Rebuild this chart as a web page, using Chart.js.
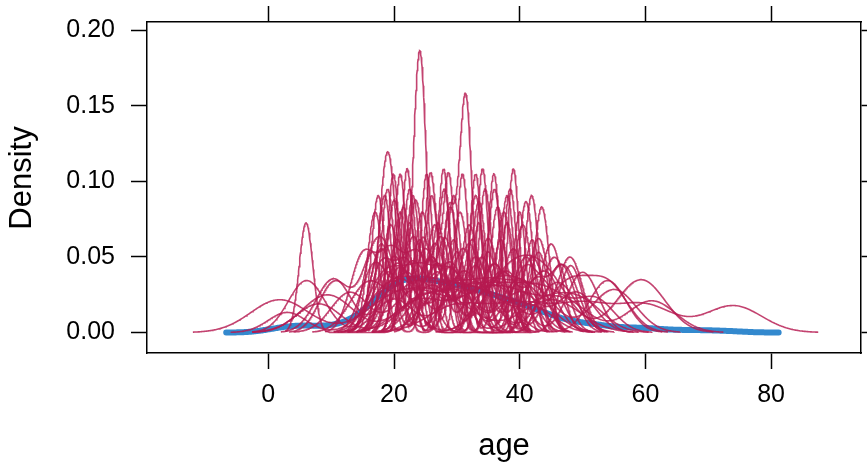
<!DOCTYPE html>
<html>
<head>
<meta charset="utf-8">
<script src="https://cdn.jsdelivr.net/npm/chart.js@4.4.1/dist/chart.umd.min.js"></script>
<style>
  html, body { margin: 0; padding: 0; background: #ffffff; }
  #wrap { width: 867px; height: 462px; }
</style>
</head>
<body>
<div id="wrap"><canvas id="densityChart" width="867" height="462"></canvas></div>
<script>
// Observed ages (binned) and their counts
const observedAges = [0.5, 3, 5, 7, 9, 11, 13, 15, 17, 19, 21, 23, 25, 27, 29, 31, 33, 35, 37, 39,
    41, 43, 45, 47, 49, 51, 53, 55, 57, 59, 61, 63, 65, 67, 69, 71, 74];
const observedCounts = [2, 3, 3, 3, 2, 3, 4, 8, 13, 19, 22, 23, 22, 20, 20, 19, 17, 16, 14, 13,
    11, 9, 7, 5, 4, 4, 3, 2, 2, 2, 2, 1, 1, 1, 1, 1, 1];
const observedBandwidth = 2.4;

// Imputed ages, one list per imputation, with the kernel bandwidth used for each
const imputedAges = [
    [19.0, 23.9, 24.3, 36.0],
    [21.0, 28.7, 31.2, 31.6, 40.0],
    [22.1, 27.9, 34.1, 39.0],
    [19.9, 25.2, 30.9, 35.9],
    [18.7, 19.3, 24.1, 29.5, 42.0],
    [21.0, 25.8, 28.7, 33.0],
    [6.0, 22.5, 27.0, 33.5, 38.0],
    [17.5, 23.0, 29.5, 41.9],
    [18.5, 26.0, 33.0, 38.0],
    [20.5, 24.6, 28.2, 32.5, 37.0],
    [16.5, 22.0, 30.0, 35.0, 43.0],
    [15.0, 19.5, 24.0, 45.5],
    [18.0, 22.0, 27.0, 33.0, 48.1],
    [10.4, 21.0, 30.0, 40.0],
    [6.1, 20.0, 36.0, 54.0],
    [9.4, 25.0, 35.0, 41.0],
    [1.8, 20.0, 28.0, 45.0],
    [10.5, 17.0, 18.5, 30.0, 40.0],
    [38.0, 44.0, 59.3],
    [30.0, 40.0, 50.0, 60.0, 74.0],
    [28.0, 35.0, 42.0, 55.0],
    [24.0, 33.0, 39.0, 47.0, 61.0],
    [26.0, 36.0, 47.6, 54.0],
    [20.0, 30.0, 35.0, 40.0, 45.0, 52.0],
    [17.0, 23.0, 29.0, 36.0],
    [20.0, 26.0, 34.0, 42.0],
    [19.0, 27.0, 37.0, 44.0],
    [22.0, 31.0, 38.0, 50.0],
    [16.0, 24.0, 33.0, 46.0],
    [21.0, 29.0, 41.0, 47.0],
    [18.0, 25.0, 31.0, 39.0],
    [23.0, 27.5, 35.0, 43.0],
    [19.5, 26.5, 32.0, 40.5],
    [21.5, 29.0, 36.5, 43.5],
    [17.0, 24.5, 30.5, 37.5],
    [20.0, 23.5, 33.5, 41.0],
    [22.5, 28.0, 34.5, 38.5],
    [18.0, 26.5, 32.0, 45.0],
    [13.0, 23.0, 30.0, 40.0, 49.0],
    [26.0, 33.0, 41.0, 48.0],
    [20.5, 27.0, 36.0, 46.5],
    [18.5, 24.0, 29.5, 43.0],
    [3.0, 17.0, 20.0, 22.0, 25.0, 28.0, 31.0, 34.0, 38.0, 43.0],
    [8.0, 24.0, 30.0, 35.0, 44.0, 50.0]
];
const imputedBandwidths = [1.05, 1.0, 0.92, 0.95, 1.3, 0.95, 1.1, 1.1, 1.1, 1.3, 1.5,
    2.0, 1.8, 2.8, 2.9, 4.0, 4.6, 2.4, 3.8, 4.5, 3.5, 3.8, 3.2, 3.0,
    2.2, 2.0, 2.5, 2.5, 3.0, 2.3, 1.8, 1.6, 1.4, 1.2, 1.25, 1.15, 1.05, 1.7,
    3.0, 2.0, 2.2, 2.7, 3.0, 3.5];

const xTicks = [0, 20, 40, 60, 80];
const yTicks = [0, 0.05, 0.10, 0.15, 0.20];

const FONT = "'Liberation Sans', Arial, Helvetica, sans-serif";
const OBS_COLOR = "rgba(0, 108, 194, 0.8)";
const IMP_COLOR = "rgba(182, 26, 81, 0.82)";

// Gaussian kernel density, evaluated over 512 points from min - 3bw to max + 3bw
function density(values, weights, bw) {
    const total = weights.reduce((a, b) => a + b, 0);
    const lo = Math.min(...values) - 3 * bw;
    const hi = Math.max(...values) + 3 * bw;
    const norm = total * bw * Math.sqrt(2 * Math.PI);
    const pts = [];
    for (let i = 0; i < 512; i++) {
        const x = lo + (hi - lo) * i / 511;
        let s = 0;
        for (let j = 0; j < values.length; j++) {
            const z = (x - values[j]) / bw;
            s += weights[j] * Math.exp(-0.5 * z * z);
        }
        pts.push({ x: x, y: s / norm });
    }
    return pts;
}

const datasets = imputedAges.map((ages, i) => ({
    data: density(ages, ages.map(() => 1), imputedBandwidths[i]),
    borderColor: IMP_COLOR,
    borderWidth: 1.6,
    pointRadius: 0,
    tension: 0,
    order: 0
}));

datasets.push({
    data: density(observedAges, observedCounts, observedBandwidth),
    borderColor: OBS_COLOR,
    borderWidth: 6,
    borderCapStyle: "round",
    borderJoinStyle: "round",
    pointRadius: 0,
    tension: 0,
    order: 1
});

// y axis title, centred a little above the panel middle
const yTitle = {
    id: "yTitle",
    afterDraw(chart) {
        const ctx = chart.ctx;
        ctx.save();
        ctx.translate(22, 178);
        ctx.rotate(-Math.PI / 2);
        ctx.font = "31px " + FONT;
        ctx.fillStyle = "#000000";
        ctx.textAlign = "center";
        ctx.textBaseline = "middle";
        ctx.fillText("Density", 0, 0);
        ctx.restore();
    }
};

const axisLine = { display: true, color: "#000000", width: 1.5 };
const tickMarks = {
    drawOnChartArea: false,
    drawTicks: true,
    tickLength: 16,
    tickWidth: 1.5,
    tickColor: "#000000",
    color: "#000000"
};
const noOverflow = s => { s.paddingTop = 0; s.paddingBottom = 0; s.paddingLeft = 0; s.paddingRight = 0; };
const X_MIN = -19.3, X_MAX = 94.3;
const Y_MIN = -0.01358, Y_MAX = 0.2056;

new Chart(document.getElementById("densityChart").getContext("2d"), {
    type: "line",
    data: { datasets: datasets },
    plugins: [yTitle],
    options: {
        responsive: false,
        animation: false,
        layout: { padding: 0 },
        plugins: { legend: { display: false }, tooltip: { enabled: false } },
        scales: {
            x: {
                type: "linear",
                position: "bottom",
                min: X_MIN,
                max: X_MAX,
                border: axisLine,
                grid: tickMarks,
                afterBuildTicks: s => { s.ticks = xTicks.map(v => ({ value: v })); },
                afterFit: s => { s.height = 109; noOverflow(s); },
                ticks: {
                    color: "#000000",
                    font: { family: FONT, size: 25 },
                    padding: 11,
                    maxRotation: 0,
                    callback: v => String(v)
                },
                title: {
                    display: true,
                    text: "age",
                    color: "#000000",
                    font: { family: FONT, size: 31, lineHeight: 1 },
                    padding: { top: 0, bottom: 0 }
                }
            },
            x2: {
                type: "linear",
                position: "top",
                min: X_MIN,
                max: X_MAX,
                border: axisLine,
                grid: tickMarks,
                afterBuildTicks: s => { s.ticks = xTicks.map(v => ({ value: v })); },
                afterFit: s => { s.height = 22; noOverflow(s); },
                ticks: { display: false }
            },
            y: {
                type: "linear",
                position: "left",
                min: Y_MIN,
                max: Y_MAX,
                border: axisLine,
                grid: tickMarks,
                afterBuildTicks: s => { s.ticks = yTicks.map(v => ({ value: v })); },
                afterFit: s => { s.width = 147; noOverflow(s); },
                ticks: {
                    color: "#000000",
                    font: { family: FONT, size: 25 },
                    padding: 16,
                    callback: v => v.toFixed(2)
                }
            },
            y2: {
                type: "linear",
                position: "right",
                min: Y_MIN,
                max: Y_MAX,
                border: axisLine,
                grid: tickMarks,
                afterBuildTicks: s => { s.ticks = yTicks.map(v => ({ value: v })); },
                afterFit: s => { s.width = 6; noOverflow(s); },
                ticks: { display: false }
            }
        }
    }
});
</script>
</body>
</html>
